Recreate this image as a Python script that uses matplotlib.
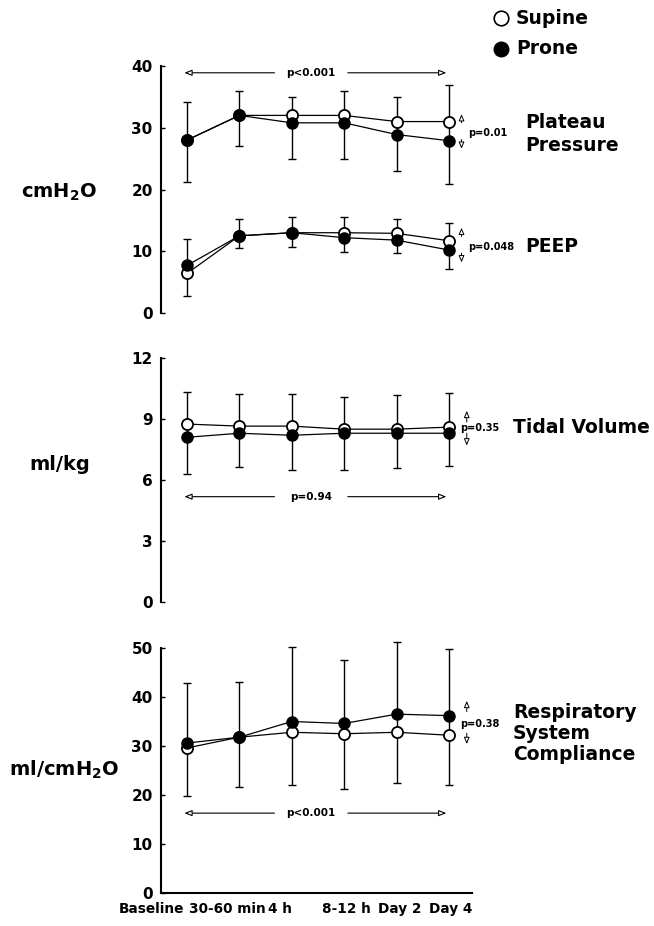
import numpy as np
import matplotlib
matplotlib.use('Agg')
import matplotlib.pyplot as plt
from matplotlib.lines import Line2D

plt.rcParams['font.family'] = 'DejaVu Sans'
plt.rcParams['font.weight'] = 'bold'

times = ['Baseline', '30-60 min', '4 h', '8-12 h', 'Day 2', 'Day 4']

# plateau pressure (cmH2O)
plat_supine = [28, 32, 32, 32, 31, 31]
plat_prone = [28, 32, 30.8, 30.8, 28.9, 27.9]
plat_lo = [21.2, 27.1, 25.0, 25.0, 23.0, 20.9]
plat_hi = [34.1, 36.0, 35.0, 36.0, 34.9, 36.9]

# PEEP (cmH2O)
peep_supine = [6.4, 12.5, 13.0, 13.0, 12.9, 11.7]
peep_prone = [7.7, 12.5, 13.0, 12.2, 11.8, 10.2]
peep_lo = [2.7, 10.6, 10.7, 9.9, 9.7, 7.2]
peep_hi = [12.0, 15.2, 15.5, 15.6, 15.2, 14.6]

# tidal volume (ml/kg)
tv_supine = [8.75, 8.65, 8.65, 8.5, 8.5, 8.6]
tv_prone = [8.1, 8.3, 8.2, 8.3, 8.3, 8.3]
tv_lo = [6.3, 6.65, 6.5, 6.5, 6.6, 6.7]
tv_hi = [10.35, 10.25, 10.25, 10.1, 10.2, 10.3]

# respiratory system compliance (ml/cmH2O)
crs_supine = [29.6, 31.8, 32.8, 32.5, 32.8, 32.2]
crs_prone = [30.6, 31.8, 35.0, 34.6, 36.5, 36.2]
crs_lo = [19.7, 21.6, 22.0, 21.2, 22.4, 22.0]
crs_hi = [42.9, 43.1, 50.2, 47.5, 51.2, 49.8]

x = np.arange(len(times))

W, H = 654, 926
fig = plt.figure(figsize=(W/100, H/100), dpi=100)

def fx(px):
    return px/W

def fy(py):
    return 1 - py/H

def make_ax(top_px, bot_px, ymax, step, bottom_spine=False):
    ax = fig.add_axes([fx(161), fy(bot_px), fx(472)-fx(161), (bot_px-top_px)/H])
    ax.set_xlim(-0.496, 5.44)
    ax.set_ylim(0, ymax)
    ax.set_yticks(np.arange(0, ymax+0.1, step))
    ax.set_yticklabels(['%d' % v for v in np.arange(0, ymax+0.1, step)], fontsize=11, fontweight='bold')
    ax.set_xticks([])
    for s in ['top', 'right']:
        ax.spines[s].set_visible(False)
    ax.spines['bottom'].set_visible(bottom_spine)
    ax.spines['left'].set_linewidth(1.5)
    ax.spines['bottom'].set_linewidth(1.5)
    ax.tick_params(axis='y', direction='in', length=3, width=1, pad=6)
    return ax

def draw_series(ax, sup, pro, lo, hi):
    sup = np.array(sup); pro = np.array(pro)
    lo = np.array(lo); hi = np.array(hi)
    ax.errorbar(x, pro, yerr=[pro-lo, hi-pro], fmt='none', ecolor='black',
                elinewidth=1, capsize=3, capthick=1, zorder=1, clip_on=False)
    ax.plot(x, sup, '-o', color='black', lw=0.9, ms=8, mfc='white', mec='black', mew=1.3, zorder=3, clip_on=False)
    ax.plot(x, pro, '-o', color='black', lw=0.9, ms=8, mfc='black', mec='black', zorder=4, clip_on=False)

def hbar(ax, y, txt, xc=2.37, half=0.7):
    ap = dict(arrowstyle='-|>,head_length=0.45,head_width=0.18', fc='white', ec='black', lw=0.8,
              shrinkA=0, shrinkB=0)
    ax.annotate('', xy=(-0.05, y), xytext=(xc-half, y), arrowprops=ap)
    ax.annotate('', xy=(4.95, y), xytext=(xc+half, y), arrowprops=ap)
    ax.text(xc, y, txt, ha='center', va='center', fontsize=7.5, fontweight='bold')

def vp(ax, xa, y_up, y_dn, xt, yt, txt):
    ap = dict(arrowstyle='-|>,head_length=0.4,head_width=0.17', fc='white', ec='black', lw=0.7,
              shrinkA=0, shrinkB=0)
    ax.annotate('', xy=(xa, y_up[1]), xytext=(xa, y_up[0]), arrowprops=ap, annotation_clip=False)
    ax.annotate('', xy=(xa, y_dn[1]), xytext=(xa, y_dn[0]), arrowprops=ap, annotation_clip=False)
    ax.text(xt, yt, txt, ha='left', va='center', fontsize=7, fontweight='bold', clip_on=False)

# top panel: plateau pressure and PEEP
ax1 = make_ax(66, 313, 40, 10)
draw_series(ax1, plat_supine, plat_prone, plat_lo, plat_hi)
draw_series(ax1, peep_supine, peep_prone, peep_lo, peep_hi)
hbar(ax1, 38.9, 'p<0.001')
vp(ax1, 5.24, (30.8, 32.2), (28.1, 26.6), 5.36, 29.1, 'p=0.01')
vp(ax1, 5.24, (12.4, 13.8), (9.7, 8.2), 5.36, 10.7, 'p=0.048')
ax1.text(6.45, 29.0, 'Plateau\nPressure', ha='left', va='center', fontsize=13.5,
         fontweight='bold', linespacing=1.3, clip_on=False)
ax1.text(6.45, 10.7, 'PEEP', ha='left', va='center', fontsize=13.5, fontweight='bold', clip_on=False)

# middle panel: tidal volume
ax2 = make_ax(358, 602, 12, 3)
draw_series(ax2, tv_supine, tv_prone, tv_lo, tv_hi)
hbar(ax2, 5.18, 'p=0.94')
vp(ax2, 5.34, (8.85, 9.4), (8.3, 7.7), 5.21, 8.56, '')
ax2.text(5.21, 8.56, 'p=0.35', ha='left', va='center', fontsize=7, fontweight='bold', clip_on=False)
ax2.text(6.22, 8.56, 'Tidal Volume', ha='left', va='center', fontsize=13.5, fontweight='bold', clip_on=False)

# bottom panel: compliance
ax3 = make_ax(648, 893, 50, 10, bottom_spine=True)
draw_series(ax3, crs_supine, crs_prone, crs_lo, crs_hi)
hbar(ax3, 16.3, 'p<0.001')
vp(ax3, 5.34, (37.0, 39.2), (32.6, 30.4), 5.21, 34.5, '')
ax3.text(5.21, 34.5, 'p=0.38', ha='left', va='center', fontsize=7, fontweight='bold', clip_on=False)
ax3.text(6.22, 32.6, 'Respiratory\nSystem\nCompliance', ha='left', va='center', fontsize=13.5,
         fontweight='bold', linespacing=1.15, clip_on=False)

# x labels (not centred on the points in the original)
dx = [-0.68, -0.22, -0.22, 0.05, 0.06, 0.04]
for i, t in enumerate(times):
    ax3.text(x[i]+dx[i], -0.035, t, transform=ax3.get_xaxis_transform(), ha='center', va='top',
             fontsize=9.8, fontweight='bold')

# unit labels
fig.text(fx(59), fy(192), r'cmH$_\mathbf{2}$O', ha='center', va='center', fontsize=14, fontweight='bold')
fig.text(fx(60), fy(465), 'ml/kg', ha='center', va='center', fontsize=14, fontweight='bold')
fig.text(fx(64), fy(770), r'ml/cmH$_\mathbf{2}$O', ha='center', va='center', fontsize=14, fontweight='bold')

# legend
fig.add_artist(Line2D([fx(501)], [fy(18)], marker='o', ms=10.5, mfc='white', mec='black', mew=1.2,
                      transform=fig.transFigure))
fig.add_artist(Line2D([fx(501)], [fy(49)], marker='o', ms=10.5, mfc='black', mec='black',
                      transform=fig.transFigure))
fig.text(fx(516), fy(18), 'Supine', ha='left', va='center', fontsize=13.5, fontweight='bold')
fig.text(fx(516), fy(49), 'Prone', ha='left', va='center', fontsize=13.5, fontweight='bold')

fig.savefig('out.png', dpi=100)
